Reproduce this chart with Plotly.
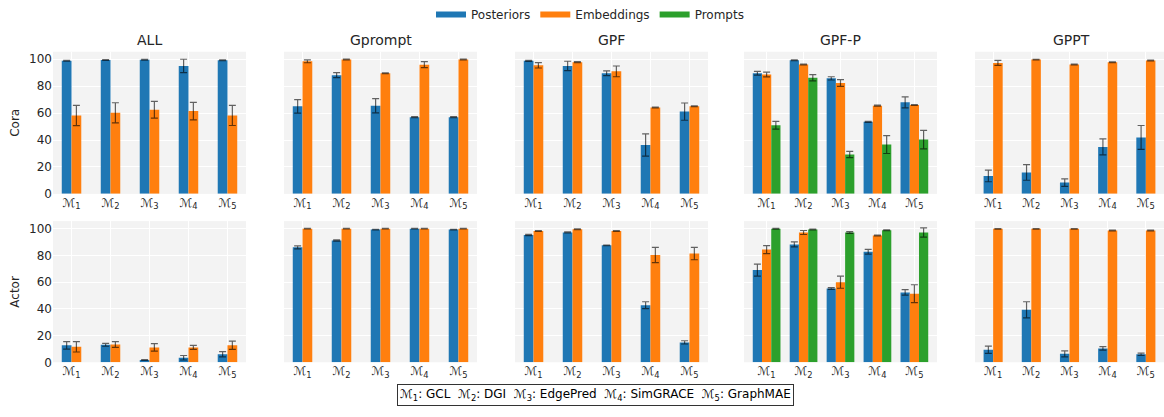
import plotly.graph_objects as go
from plotly.subplots import make_subplots

# ---- data -----------------------------------------------------------------
methods = ["ALL", "Gprompt", "GPF", "GPF-P", "GPPT"]
datasets = ["Cora", "Actor"]
model_ticks = ["ℳ<sub>1</sub>", "ℳ<sub>2</sub>", "ℳ<sub>3</sub>", "ℳ<sub>4</sub>", "ℳ<sub>5</sub>"]
series_names = ["Posteriors", "Embeddings", "Prompts"]
series_colors = ["#1f77b4", "#ff7f0e", "#2ca02c"]

# Cora: one row per method (ALL, Gprompt, GPF, GPF-P, GPPT), one value per model
cora_post = [
    [98.8, 99.5, 99.6, 95.0, 99.3],
    [65.0, 88.2, 65.5, 57.0, 57.0],
    [98.8, 95.0, 89.6, 36.3, 61.1],
    [89.6, 99.3, 85.8, 53.5, 68.0],
    [13.3, 15.9, 8.4, 34.9, 41.9],
]
cora_post_err = [
    [0.3, 0.3, 0.3, 5.0, 0.3],
    [5.0, 1.8, 5.3, 0.4, 0.4],
    [0.4, 3.5, 1.8, 8.3, 6.4],
    [1.4, 0.3, 1.2, 0.4, 4.1],
    [4.3, 5.8, 2.8, 6.0, 8.9],
]
cora_emb = [
    [58.2, 60.2, 62.5, 61.5, 58.3],
    [98.5, 99.8, 89.6, 96.0, 99.8],
    [95.5, 97.8, 91.0, 64.1, 65.0],
    [88.7, 96.1, 82.4, 65.5, 66.0],
    [97.3, 99.8, 96.1, 97.8, 99.0],
]
cora_emb_err = [
    [7.5, 7.5, 6.2, 6.5, 7.5],
    [1.1, 0.3, 0.3, 2.2, 0.3],
    [2.0, 0.4, 4.0, 0.3, 0.3],
    [1.8, 0.3, 2.5, 0.4, 0.3],
    [1.9, 0.2, 0.3, 0.3, 0.3],
]
cora_prompt = [51.0, 86.3, 29.2, 36.6, 40.3]
cora_prompt_err = [2.9, 2.3, 2.3, 6.6, 6.9]

# Actor
actor_post = [
    [12.7, 13.1, 1.7, 3.4, 6.0],
    [86.0, 91.1, 99.3, 99.9, 99.3],
    [95.2, 97.1, 87.5, 42.7, 14.9],
    [69.0, 88.2, 55.2, 82.7, 52.3],
    [9.4, 39.3, 6.3, 10.4, 6.0],
]
actor_post_err = [
    [2.8, 1.1, 0.3, 1.7, 2.0],
    [1.1, 0.4, 0.2, 0.2, 0.2],
    [0.5, 0.4, 0.2, 2.6, 1.2],
    [4.5, 1.9, 0.6, 1.8, 2.0],
    [2.7, 6.0, 2.2, 1.3, 0.8],
]
actor_emb = [
    [11.6, 13.3, 11.1, 11.1, 12.8],
    [99.9, 99.9, 99.9, 99.9, 99.9],
    [98.3, 99.5, 98.3, 80.2, 81.3],
    [84.3, 97.1, 59.9, 94.9, 51.3],
    [99.8, 99.8, 99.8, 98.6, 98.6],
]
actor_emb_err = [
    [3.9, 2.2, 2.8, 1.5, 3.1],
    [0.2, 0.2, 0.2, 0.2, 0.2],
    [0.3, 0.3, 0.3, 5.7, 4.6],
    [3.0, 1.5, 4.5, 0.3, 6.7],
    [0.2, 0.2, 0.2, 0.3, 0.3],
]
actor_prompt = [99.8, 99.3, 97.1, 98.8, 97.1]
actor_prompt_err = [0.3, 0.3, 0.6, 0.3, 3.5]

legend_note = ("ℳ<sub>1</sub>: GCL  ℳ<sub>2</sub>: DGI  ℳ<sub>3</sub>: EdgePred  "
               "ℳ<sub>4</sub>: SimGRACE  ℳ<sub>5</sub>: GraphMAE")

# ---- figure ---------------------------------------------------------------
W, H = 1164, 417
FONT = "DejaVu Sans"
TXT = "#262626"
BAR_W = 0.25

fig = make_subplots(rows=2, cols=5)

col_left = [53, 284, 515, 744, 975]
col_width = 193
row_box = [(49, 195), (223, 368)]  # (top, bottom) in pixels

tables = {
    "Cora": (cora_post, cora_post_err, cora_emb, cora_emb_err, cora_prompt, cora_prompt_err),
    "Actor": (actor_post, actor_post_err, actor_emb, actor_emb_err, actor_prompt, actor_prompt_err),
}

err_style = dict(type="data", color="rgba(0,0,0,0.6)", thickness=1.2, width=3.5)

for r, ds in enumerate(datasets):
    post, post_err, emb, emb_err, prm, prm_err = tables[ds]
    for c, meth in enumerate(methods):
        series = [(post[c], post_err[c]), (emb[c], emb_err[c])]
        if meth == "GPF-P":
            series.append((prm, prm_err))
        n = len(series)
        for k, (vals, errs) in enumerate(series):
            offset = (k - (n - 1) / 2) * BAR_W
            fig.add_trace(
                go.Bar(
                    x=[i + offset for i in range(len(vals))],
                    y=vals,
                    width=BAR_W,
                    marker=dict(color=series_colors[k], line=dict(width=0)),
                    error_y=dict(array=errs, **err_style),
                    showlegend=False,
                    hoverinfo="skip",
                ),
                row=r + 1, col=c + 1,
            )
        half = (n / 2) * BAR_W
        span = 4 + 2 * half
        xr = [-half - 0.05 * span, 4 + half + 0.05 * span]

        x0 = col_left[c] / W
        x1 = min(col_left[c] + col_width, W) / W
        top, bot = row_box[r]
        fig.update_xaxes(
            domain=[x0, x1], range=xr, tickvals=list(range(5)), ticktext=model_ticks,
            showgrid=True, gridcolor="white", gridwidth=1, zeroline=False,
            showline=False, ticks="", tickfont=dict(size=12, color=TXT, family=FONT),
            row=r + 1, col=c + 1,
        )
        fig.update_yaxes(
            domain=[(H - bot) / H, (H - top) / H], range=[0, 105.6],
            tickvals=[0, 20, 40, 60, 80, 100], showticklabels=(c == 0),
            showgrid=True, gridcolor="white", gridwidth=1, zeroline=False,
            showline=False, ticks="", tickfont=dict(size=12, color=TXT, family=FONT),
            row=r + 1, col=c + 1,
        )

# Column titles
for c, meth in enumerate(methods):
    fig.add_annotation(
        text=meth, xref="paper", yref="paper",
        x=(col_left[c] + col_width / 2) / W, y=(H - 37) / H,
        xanchor="center", yanchor="middle",
        showarrow=False, font=dict(size=14, color=TXT, family=FONT),
    )

# Row labels
for r, ds in enumerate(datasets):
    top, bot = row_box[r]
    fig.add_annotation(
        text=ds, xref="paper", yref="paper", x=15 / W, y=(H - (top + bot) / 2) / H,
        xanchor="center", yanchor="middle",
        textangle=-90, showarrow=False, font=dict(size=12, color=TXT, family=FONT),
    )

# Legend entries
for name, color in zip(series_names, series_colors):
    fig.add_trace(go.Scatter(
        x=[None], y=[None], mode="lines", name=name,
        line=dict(color=color, width=6), showlegend=True,
    ))

# Model key box
fig.add_annotation(
    text=legend_note, xref="paper", yref="paper", x=595 / W, y=(H - 402) / H,
    xanchor="center", yanchor="middle",
    showarrow=False, font=dict(size=12, color="black", family=FONT),
    bordercolor="#333333", borderwidth=1, borderpad=2, bgcolor="white",
)

fig.update_layout(
    width=W, height=H,
    margin=dict(l=0, r=0, t=0, b=0),
    paper_bgcolor="white", plot_bgcolor="#f3f3f3",
    barmode="overlay",
    font=dict(family=FONT, color=TXT),
    legend=dict(orientation="h", x=590 / W, xanchor="center", y=1.01, yanchor="top",
                font=dict(size=12, color=TXT, family=FONT), itemwidth=30,
                bgcolor="rgba(0,0,0,0)"),
)

fig.write_html("out.html")
